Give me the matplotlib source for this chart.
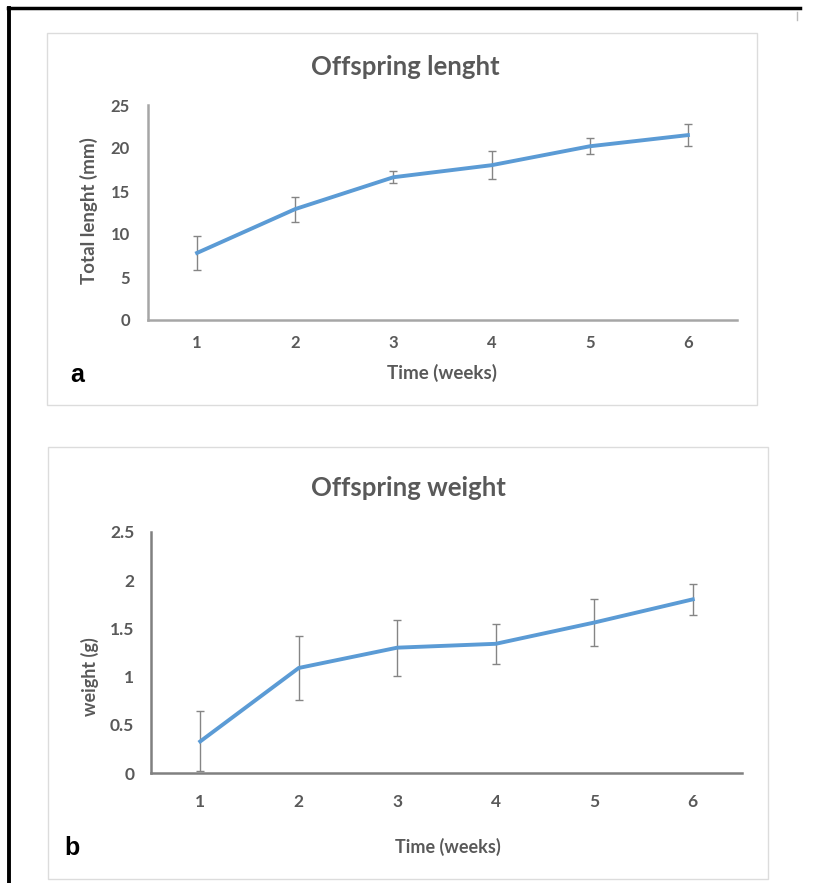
import matplotlib.pyplot as plt
from matplotlib.lines import Line2D
from matplotlib.patches import Rectangle

# data
weeks = [1, 2, 3, 4, 5, 6]
length_mean = [7.8, 12.9, 16.6, 18.0, 20.2, 21.5]
length_err = [2.0, 1.45, 0.7, 1.65, 0.95, 1.25]
weight_mean = [0.33, 1.09, 1.30, 1.34, 1.56, 1.80]
weight_err = [0.31, 0.33, 0.29, 0.21, 0.24, 0.16]

length_ticks = [0, 5, 10, 15, 20, 25]
weight_ticks = [0, 0.5, 1, 1.5, 2, 2.5]
weight_ticklabels = ["0", "0.5", "1", "1.5", "2", "2.5"]

W, H = 815, 883
LINE_BLUE = "#5B9BD5"
TXT_GREY = "#595959"
FONT = ["Lato", "DejaVu Sans"]


def px_box(x0, y0, x1, y1):
    # pixel box (top-left origin) -> figure fraction [l, b, w, h]
    return [x0 / W, 1 - y1 / H, (x1 - x0) / W, (y1 - y0) / H]


def panel(fig, box, ax_box, x, y, err, yticks, yticklabels, ylim,
          title, title_xy, ylabel, ylabel_xy, xlabel_xy, label_fs,
          letter, letter_xy, tick_fs, tick_pad_y, tick_pad_x, spine_col):
    # kotak abu-abu panel
    l, b, w, h = px_box(*box)
    fig.patches.append(Rectangle((l, b), w, h, transform=fig.transFigure,
                                 fill=False, ec="#DCDCDC", lw=1.0))

    ax = fig.add_axes(px_box(*ax_box))
    ax.errorbar(x, y, yerr=err, color=LINE_BLUE, lw=2.8,
                ecolor="#858585", elinewidth=1.0, capsize=3.2, capthick=1.0,
                zorder=3)
    ax.set_xlim(0.5, 6.5)
    ax.set_ylim(*ylim)
    ax.set_xticks(x)
    ax.set_xticklabels([str(v) for v in x])
    ax.set_yticks(yticks)
    ax.set_yticklabels(yticklabels)
    for s in ["top", "right"]:
        ax.spines[s].set_visible(False)
    for s in ["left", "bottom"]:
        ax.spines[s].set_color(spine_col)
        ax.spines[s].set_linewidth(1.8)
    ax.tick_params(axis="y", length=0, pad=tick_pad_y, labelsize=tick_fs,
                   labelcolor=TXT_GREY)
    ax.tick_params(axis="x", length=0, pad=tick_pad_x, labelsize=tick_fs,
                   labelcolor=TXT_GREY)
    for t in ax.get_xticklabels() + ax.get_yticklabels():
        t.set_family(FONT)
        t.set_fontweight("bold")

    fig.text(title_xy[0] / W, 1 - title_xy[1] / H, title, ha="center",
             va="center", fontsize=18.5, fontweight="bold", color=TXT_GREY,
             family=FONT)
    fig.text(ylabel_xy[0] / W, 1 - ylabel_xy[1] / H, ylabel, ha="center",
             va="center", rotation=90, fontsize=label_fs, fontweight="bold",
             color=TXT_GREY, family=FONT)
    fig.text(xlabel_xy[0] / W, 1 - xlabel_xy[1] / H, "Time (weeks)",
             ha="center", va="center", fontsize=label_fs, fontweight="bold",
             color=TXT_GREY, family=FONT)
    fig.text(letter_xy[0] / W, 1 - letter_xy[1] / H, letter, ha="center",
             va="center", fontsize=18, fontweight="bold", color="black",
             family=["Liberation Sans", "DejaVu Sans"])
    return ax


fig = plt.figure(figsize=(W / 100, H / 100), dpi=100)

# bingkai hitam luar (kiri + atas)
fig.lines.append(Line2D([9 / W, 9 / W], [0, 1 - 8 / H], transform=fig.transFigure,
                        color="black", lw=2.8))
fig.lines.append(Line2D([8 / W, 800 / W], [1 - 8 / H, 1 - 8 / H],
                        transform=fig.transFigure, color="black", lw=2.5))
fig.lines.append(Line2D([797 / W, 797 / W], [1 - 12 / H, 1 - 20 / H],
                        transform=fig.transFigure, color="#BBBBBB", lw=1.0))

# panel a
panel(fig, (47, 33, 757, 405), (148, 105, 737, 320),
      weeks, length_mean, length_err, length_ticks,
      [str(v) for v in length_ticks], (0, 25),
      "Offspring lenght", (405, 67), "Total lenght (mm)", (89, 211),
      (442, 373), 13.5, "a", (77, 375), 12, 13, 11, "#A6A6A6")

# panel b
panel(fig, (48, 447, 768, 879), (151, 531.7, 742, 773.3),
      weeks, weight_mean, weight_err, weight_ticks, weight_ticklabels,
      (0, 2.5),
      "Offspring weight", (408, 488), "weight (g)", (90, 677),
      (448, 847), 13, "b", (72, 848), 12.5, 12, 15, "#808080")

fig.savefig("out.png", dpi=100)
